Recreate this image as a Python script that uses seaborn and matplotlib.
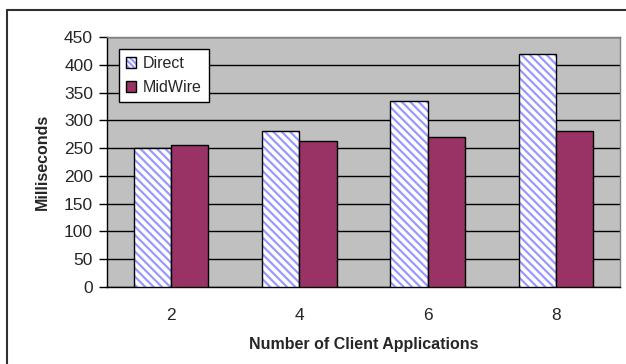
import matplotlib
matplotlib.use("Agg")
import matplotlib.pyplot as plt
import seaborn as sns
import pandas as pd
from matplotlib.lines import Line2D
from matplotlib.patches import Patch, Rectangle
from matplotlib.colors import to_rgba

categories = ["2", "4", "6", "8"]
direct = [250, 280, 335, 419]
midwire = [255, 262, 270, 280]
series_names = ["Direct", "MidWire"]
yticks = [0, 50, 100, 150, 200, 250, 300, 350, 400, 450]

df = pd.DataFrame({
    "clients": categories * 2,
    "ms": direct + midwire,
    "series": [series_names[0]] * 4 + [series_names[1]] * 4,
})

sns.set_style("white")
plt.rcParams["font.family"] = ["Liberation Sans", "DejaVu Sans"]
plt.rcParams["hatch.linewidth"] = 1.6

HATCH_COL = to_rgba("#9999FF")

fig = plt.figure(figsize=(6.26, 3.64), dpi=100)
ax = fig.add_axes([107 / 626, 1 - 287 / 364, (620 - 107) / 626, (287 - 37) / 364])
ax.set_facecolor("#C0C0C0")

sns.barplot(data=df, x="clients", y="ms", hue="series", order=categories,
            hue_order=series_names, palette=["white", "#993366"],
            width=0.58, gap=0, saturation=1, edgecolor="black", linewidth=1.0,
            ax=ax, legend=False, zorder=3)


def set_hatch_color(p):
    if hasattr(p, "set_hatchcolor"):
        p.set_hatchcolor(HATCH_COL)
    p._hatch_color = HATCH_COL


n = len(categories)
for i, p in enumerate(ax.patches[:2 * n]):
    if i < n:
        p.set_hatch("\\\\\\\\")
        p.set_facecolor("white")
        set_hatch_color(p)

ax.set_ylim(0, 450)
ax.set_yticks(yticks)
ax.set_xlim(-0.5, n - 0.5)
ax.yaxis.grid(True, color="black", linewidth=1.0, zorder=1)
ax.set_axisbelow(True)
for s in ["top", "right"]:
    ax.spines[s].set_color("#808080")
    ax.spines[s].set_linewidth(1.0)
for s in ["left", "bottom"]:
    ax.spines[s].set_color("black")
    ax.spines[s].set_linewidth(1.0)

ax.set_xticks([i - 0.5 for i in range(n + 1)], minor=True)
ax.tick_params(axis="x", which="minor", length=5, width=1, color="black", direction="out")
ax.tick_params(axis="x", which="major", length=0, labelsize=12.5, pad=15)
ax.tick_params(axis="y", length=6, width=1, color="black", direction="out",
               labelsize=12.5, left=True, pad=4)
ax.set_xticklabels(categories)

ax.set_xlabel("Number of Client Applications", fontsize=11.5, fontweight="bold", labelpad=10)
ax.set_ylabel("Milliseconds", fontsize=11.5, fontweight="bold", labelpad=10)

h1 = Patch(facecolor="white", edgecolor="black", hatch="\\\\\\\\\\\\", label="Direct")
set_hatch_color(h1)
h2 = Patch(facecolor="#993366", edgecolor="black", label="MidWire")
leg = ax.legend(handles=[h1, h2], loc="upper left", bbox_to_anchor=(0.023, 0.952),
                frameon=True, fancybox=False, edgecolor="black", fontsize=11.5,
                handlelength=0.65, handleheight=0.65, borderpad=0.45,
                labelspacing=0.55, handletextpad=0.4, borderaxespad=0)
leg.get_frame().set_linewidth(1.0)
leg.get_frame().set_facecolor("white")
leg.get_frame().set_alpha(1)
for h in leg.legend_handles:
    if h.get_hatch():
        set_hatch_color(h)

fig.add_artist(Line2D([7 / 626, 7 / 626], [0, 1 - 10 / 364], color="#303030", linewidth=1.5,
                      transform=fig.transFigure))
fig.add_artist(Line2D([7 / 626, 1], [1 - 10 / 364, 1 - 10 / 364], color="#303030",
                      linewidth=1.5, transform=fig.transFigure))

fig.savefig("out.png", dpi=100)
